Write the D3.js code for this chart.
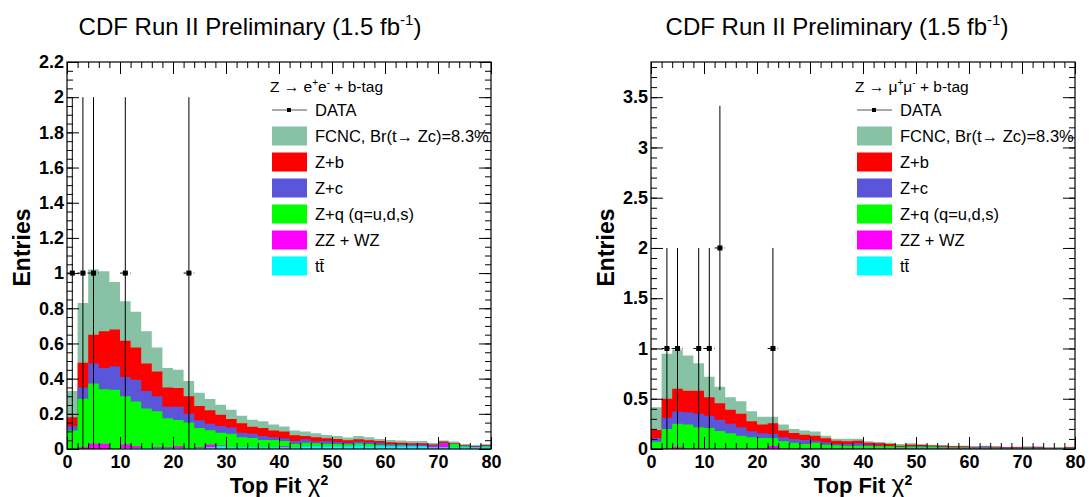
<!DOCTYPE html>
<html>
<head>
<meta charset="utf-8">
<script src="https://cdn.jsdelivr.net/npm/d3@7"></script>
<style>
    body { margin: 0; background: #fff; }
    svg { display: block; }
</style>
</head>
<body>
<script>
// binning of the chi2 histograms
const BIN_WIDTH = 2;
const X_MAX = 80;

const xMajorTicks = [0, 10, 20, 30, 40, 50, 60, 70, 80];
const eeYTicks = [0, 0.2, 0.4, 0.6, 0.8, 1, 1.2, 1.4, 1.6, 1.8, 2, 2.2];
const mmYTicks = [0, 0.5, 1, 1.5, 2, 2.5, 3, 3.5];

const legendLabels = ['FCNC, Br(t\u2192 Zc)=8.3%', 'Z+b', 'Z+c', 'Z+q (q=u,d,s)', 'ZZ + WZ', 'tt\u0304'];
const stackColors = ['#88c2a5', '#ff0000', '#5b55da', '#00ff00', '#ff00ff', '#00ffff'];

// Z -> ee : stacked totals per bin (each curve includes everything below it)
const eeFcnc = [0.33, 0.83, 1.02, 1.01, 0.95, 0.84, 0.78, 0.67, 0.577, 0.46, 0.45, 0.387, 0.32, 0.284, 0.251, 0.223, 0.189, 0.166, 0.158, 0.139,
    0.128, 0.105, 0.10, 0.09, 0.08, 0.074, 0.065, 0.074, 0.067, 0.057, 0.051, 0.048, 0.046, 0.046, 0.034, 0.048, 0.042, 0.029, 0.023, 0.029];
const eeZb = [0.18, 0.49, 0.65, 0.67, 0.68, 0.615, 0.577, 0.486, 0.44, 0.35, 0.347, 0.30, 0.245, 0.22, 0.194, 0.171, 0.147, 0.126, 0.12, 0.105,
    0.10, 0.078, 0.074, 0.067, 0.061, 0.057, 0.05, 0.055, 0.05, 0.046, 0.038, 0.036, 0.033, 0.032, 0.025, 0.042, 0.032, 0.021, 0.017, 0.023];
const eeZc = [0.13, 0.35, 0.486, 0.46, 0.47, 0.41, 0.394, 0.33, 0.30, 0.24, 0.24, 0.20, 0.164, 0.143, 0.131, 0.122, 0.093, 0.086, 0.074, 0.067,
    0.061, 0.046, 0.055, 0.042, 0.046, 0.04, 0.036, 0.042, 0.038, 0.036, 0.028, 0.027, 0.025, 0.024, 0.02, 0.035, 0.03, 0.018, 0.014, 0.02];
const eeZq = [0.105, 0.285, 0.373, 0.34, 0.337, 0.30, 0.27, 0.23, 0.215, 0.175, 0.165, 0.15, 0.12, 0.107, 0.093, 0.086, 0.067, 0.063, 0.051, 0.051,
    0.046, 0.03, 0.036, 0.032, 0.03, 0.029, 0.027, 0.032, 0.029, 0.023, 0.02, 0.02, 0.019, 0.017, 0.012, 0.03, 0.029, 0.015, 0.012, 0.016];
const eeDiboson = [0, 0.01, 0.03, 0.03, 0, 0.025, 0.015, 0.005, 0.01, 0.01, 0.015, 0.005, 0.01, 0.025, 0.02, 0.01, 0.01, 0.01, 0.01, 0.01,
    0.015, 0.01, 0.015, 0.015, 0.015, 0.015, 0.015, 0.02, 0.015, 0.015, 0.015, 0.015, 0.015, 0.015, 0.015, 0.03, 0.01, 0.01, 0.01, 0.01];
const eeTtbar = [0, 0, 0, 0, 0, 0.005, 0.005, 0.005, 0.005, 0.005, 0.005, 0.005, 0.005, 0.01, 0.015, 0.01, 0.01, 0.01, 0.01, 0.01,
    0.01, 0.01, 0.015, 0.015, 0.015, 0.015, 0.015, 0.02, 0.015, 0.015, 0.015, 0.015, 0.015, 0.015, 0.01, 0.01, 0.01, 0.01, 0.01, 0.01];
const eeData = [1, 1, 1, 0, 0, 1, 0, 0, 0, 0, 0, 1, 0, 0, 0, 0, 0, 0, 0, 0,
    0, 0, 0, 0, 0, 0, 0, 0, 0, 0, 0, 0, 0, 0, 0, 0, 0, 0, 0, 0];

// Z -> mumu
const mmFcnc = [0.415, 0.947, 0.99, 0.93, 0.854, 0.72, 0.62, 0.515, 0.475, 0.375, 0.322, 0.322, 0.243, 0.2, 0.183, 0.173, 0.133, 0.103, 0.103, 0.103,
    0.076, 0.07, 0.063, 0.05, 0.056, 0.05, 0.043, 0.04, 0.033, 0.033, 0.027, 0.033, 0.027, 0.023, 0.023, 0.027, 0.027, 0.017, 0.013, 0.023];
const mmZb = [0.19, 0.50, 0.60, 0.58, 0.58, 0.515, 0.455, 0.39, 0.35, 0.276, 0.243, 0.256, 0.183, 0.16, 0.143, 0.133, 0.106, 0.083, 0.076, 0.083,
    0.063, 0.056, 0.05, 0.033, 0.043, 0.04, 0.035, 0.032, 0.027, 0.027, 0.022, 0.025, 0.023, 0.018, 0.02, 0.02, 0.02, 0.013, 0.012, 0.017];
const mmZc = [0.11, 0.31, 0.372, 0.365, 0.35, 0.33, 0.29, 0.25, 0.216, 0.176, 0.156, 0.15, 0.116, 0.10, 0.09, 0.083, 0.066, 0.05, 0.05, 0.056,
    0.043, 0.036, 0.03, 0.025, 0.03, 0.03, 0.027, 0.025, 0.02, 0.02, 0.017, 0.022, 0.016, 0.014, 0.014, 0.016, 0.015, 0.01, 0.012, 0.012];
const mmZq = [0.073, 0.20, 0.25, 0.243, 0.216, 0.21, 0.18, 0.156, 0.133, 0.116, 0.11, 0.11, 0.076, 0.063, 0.05, 0.063, 0.043, 0.037, 0.033, 0.033,
    0.03, 0.027, 0.027, 0.02, 0.023, 0.02, 0.023, 0.018, 0.015, 0.015, 0.012, 0.012, 0.012, 0.01, 0.01, 0.012, 0.01, 0.008, 0.012, 0.01];
const mmDiboson = [0.005, 0.005, 0.017, 0.005, 0.01, 0.008, 0.005, 0.005, 0.005, 0.005, 0.01, 0.03, 0.008, 0.005, 0.005, 0.005, 0.005, 0.005, 0.005, 0.005,
    0.005, 0.005, 0.005, 0.005, 0.005, 0.005, 0.005, 0.005, 0.005, 0.005, 0.005, 0.005, 0.005, 0.005, 0.005, 0.005, 0.005, 0.005, 0.005, 0.005];
const mmTtbar = [0, 0, 0, 0, 0.003, 0.005, 0.005, 0.003, 0.003, 0.003, 0.003, 0.003, 0.003, 0.003, 0.003, 0.003, 0.003, 0.003, 0.003, 0.003,
    0.003, 0.003, 0.003, 0.003, 0.003, 0.003, 0.003, 0.003, 0.003, 0.003, 0.003, 0.003, 0.003, 0.003, 0.003, 0.003, 0.003, 0.003, 0.003, 0.003];
const mmData = [0, 1, 1, 0, 1, 1, 2, 0, 0, 0, 0, 1, 0, 0, 0, 0, 0, 0, 0, 0,
    0, 0, 0, 0, 0, 0, 0, 0, 0, 0, 0, 0, 0, 0, 0, 0, 0, 0, 0, 0];

const FONT = '"Liberation Sans", Arial, Helvetica, sans-serif';
const TOP = 62;
const BOTTOM = 449;

const svg = d3.select('body').append('svg')
    .attr('width', 1091)
    .attr('height', 497)
    .attr('font-family', FONT);

class Panel {

    constructor (cfg) {
        this.cfg = cfg;
        this.g = svg.append('g');
        this.x = d3.scaleLinear().domain([0, X_MAX]).range([cfg.left, cfg.right]);
        this.y = d3.scaleLinear().domain([0, cfg.yMax]).range([BOTTOM, TOP]);

        this.drawStack();
        this.drawData();
        this.drawAxes();
        this.drawTitles();
        this.drawLegend();
    }

    /**
     * Stacked MC histograms, tallest total drawn first.
     */
    drawStack() {
        const area = d3.area()
            .curve(d3.curveStepAfter)
            .x((d) => this.x(d.x))
            .y0(this.y(0))
            .y1((d) => this.y(d.v));

        this.cfg.stack.forEach((values, k) => {
            const pts = values.map((v, i) => ({ x: i * BIN_WIDTH, v: v }));
            pts.push({ x: values.length * BIN_WIDTH, v: values[values.length - 1] });
            this.g.append('path')
                .attr('d', area(pts))
                .attr('fill', stackColors[k]);
        });
    }

    /**
     * Data points with sqrt(N) error bars, empty bins are skipped.
     */
    drawData() {
        const pts = this.cfg.data
            .map((n, i) => ({ n: n, lo: i * BIN_WIDTH, hi: (i + 1) * BIN_WIDTH }))
            .filter((d) => d.n > 0);

        const dg = this.g.append('g').attr('stroke', '#000').attr('stroke-width', 1);
        dg.selectAll('line.ey').data(pts).enter().append('line')
            .attr('x1', (d) => this.x((d.lo + d.hi) / 2))
            .attr('x2', (d) => this.x((d.lo + d.hi) / 2))
            .attr('y1', (d) => this.y(d.n - Math.sqrt(d.n)))
            .attr('y2', (d) => this.y(d.n + Math.sqrt(d.n)));
        dg.selectAll('line.ex').data(pts).enter().append('line')
            .attr('x1', (d) => this.x(d.lo))
            .attr('x2', (d) => this.x(d.hi))
            .attr('y1', (d) => this.y(d.n))
            .attr('y2', (d) => this.y(d.n))
            .attr('stroke-dasharray', '3,2');
        this.g.selectAll('rect.marker').data(pts).enter().append('rect')
            .attr('x', (d) => this.x((d.lo + d.hi) / 2) - 2.5)
            .attr('y', (d) => this.y(d.n) - 2.5)
            .attr('width', 5)
            .attr('height', 5)
            .attr('fill', '#000');
    }

    /**
     * Frame plus inward ticks on all four sides.
     */
    drawAxes() {
        const { left, right } = this.cfg;
        const xMinor = d3.range(0, X_MAX + 1, BIN_WIDTH);
        const yMinor = d3.range(0, this.cfg.yMax, this.cfg.yMinorStep).map((v) => +v.toFixed(3));

        const put = (axis, tx, ty, labels) => {
            const a = this.g.append('g')
                .attr('transform', `translate(${tx},${ty})`)
                .call(axis);
            a.select('.domain').remove();
            a.attr('font-family', FONT).attr('font-size', 18).attr('font-weight', 'bold')
                .selectAll('line').attr('stroke', '#000');
            if (!labels) a.selectAll('text').remove();
            return a;
        };

        // x axis
        put(d3.axisBottom(this.x).tickValues(xMajorTicks).tickSize(-12).tickPadding(6), 0, BOTTOM, true);
        put(d3.axisBottom(this.x).tickValues(xMinor).tickSize(-6), 0, BOTTOM, false);
        put(d3.axisTop(this.x).tickValues(xMajorTicks).tickSize(-12), 0, TOP, false);
        put(d3.axisTop(this.x).tickValues(xMinor).tickSize(-6), 0, TOP, false);

        // y axis
        put(d3.axisLeft(this.y).tickValues(this.cfg.yTicks).tickSize(-12).tickPadding(3)
            .tickFormat((d) => String(d)), left, 0, true);
        put(d3.axisLeft(this.y).tickValues(yMinor).tickSize(-6), left, 0, false);
        put(d3.axisRight(this.y).tickValues(this.cfg.yTicks).tickSize(-12), right, 0, false);
        put(d3.axisRight(this.y).tickValues(yMinor).tickSize(-6), right, 0, false);

        this.g.append('rect')
            .attr('x', left)
            .attr('y', TOP)
            .attr('width', right - left)
            .attr('height', BOTTOM - TOP)
            .attr('fill', 'none')
            .attr('stroke', '#000')
            .attr('stroke-width', 1.2);
    }

    drawTitles() {
        const { left, right } = this.cfg;

        const title = this.g.append('text')
            .attr('x', this.cfg.titleX)
            .attr('y', 35)
            .attr('text-anchor', 'middle')
            .attr('font-size', 24);
        title.append('tspan').text('CDF Run II Preliminary (1.5 fb');
        title.append('tspan').attr('dy', -10).attr('font-size', 15).text('-1');
        title.append('tspan').attr('dy', 10).text(')');

        const xt = this.g.append('text')
            .attr('x', (left + right) / 2)
            .attr('y', 493)
            .attr('text-anchor', 'middle')
            .attr('font-size', 22)
            .attr('font-weight', 'bold');
        xt.append('tspan').text('Top Fit ');
        xt.append('tspan').attr('font-weight', 'normal').attr('font-size', 25).text('\u03c7');
        xt.append('tspan').attr('dy', -8).attr('font-size', 14).text('2');

        this.g.append('text')
            .attr('transform', `translate(${left - 37},${(TOP + BOTTOM) / 2 - 8}) rotate(-90)`)
            .attr('text-anchor', 'middle')
            .attr('font-size', 23)
            .attr('font-weight', 'bold')
            .text('Entries');
    }

    drawLegend() {
        const lx = this.cfg.legendX;
        const lg = this.g.append('g').attr('font-size', 16.5);

        // header with the lepton charges as superscripts
        const head = lg.append('text').attr('x', lx - 2).attr('y', 92).attr('font-size', 15.5);
        head.append('tspan').text('Z \u2192 ' + this.cfg.lepton);
        head.append('tspan').attr('dy', -6).attr('font-size', 10).text('+');
        head.append('tspan').attr('dy', 6).text(this.cfg.lepton);
        head.append('tspan').attr('dy', -6).attr('font-size', 10).text('-');
        head.append('tspan').attr('dy', 6).text(' + b-tag');

        const rowY = (i) => 136 + i * 26;

        lg.append('line')
            .attr('x1', lx).attr('x2', lx + 35)
            .attr('y1', 110).attr('y2', 110)
            .attr('stroke', '#555');
        lg.append('rect')
            .attr('x', lx + 15).attr('y', 108)
            .attr('width', 4).attr('height', 4)
            .attr('fill', '#000');
        lg.append('text').attr('x', lx + 43).attr('y', 116).text('DATA');

        lg.selectAll('rect.box').data(legendLabels).enter().append('rect')
            .attr('x', lx)
            .attr('y', (d, i) => rowY(i) - 9.5)
            .attr('width', 35)
            .attr('height', 19)
            .attr('fill', (d, i) => stackColors[i]);
        lg.selectAll('text.lab').data(legendLabels).enter().append('text')
            .attr('x', lx + 43)
            .attr('y', (d, i) => rowY(i) + 6)
            .text((d) => d);
    }
}

new Panel({
    left: 67, right: 491, yMax: 2.2, yTicks: eeYTicks, yMinorStep: 0.05,
    titleX: 250, legendX: 272, lepton: 'e',
    stack: [eeFcnc, eeZb, eeZc, eeZq, eeDiboson, eeTtbar],
    data: eeData
});

new Panel({
    left: 651, right: 1075, yMax: 3.85, yTicks: mmYTicks, yMinorStep: 0.1,
    titleX: 837, legendX: 857, lepton: '\u03bc',
    stack: [mmFcnc, mmZb, mmZc, mmZq, mmDiboson, mmTtbar],
    data: mmData
});
</script>
</body>
</html>
